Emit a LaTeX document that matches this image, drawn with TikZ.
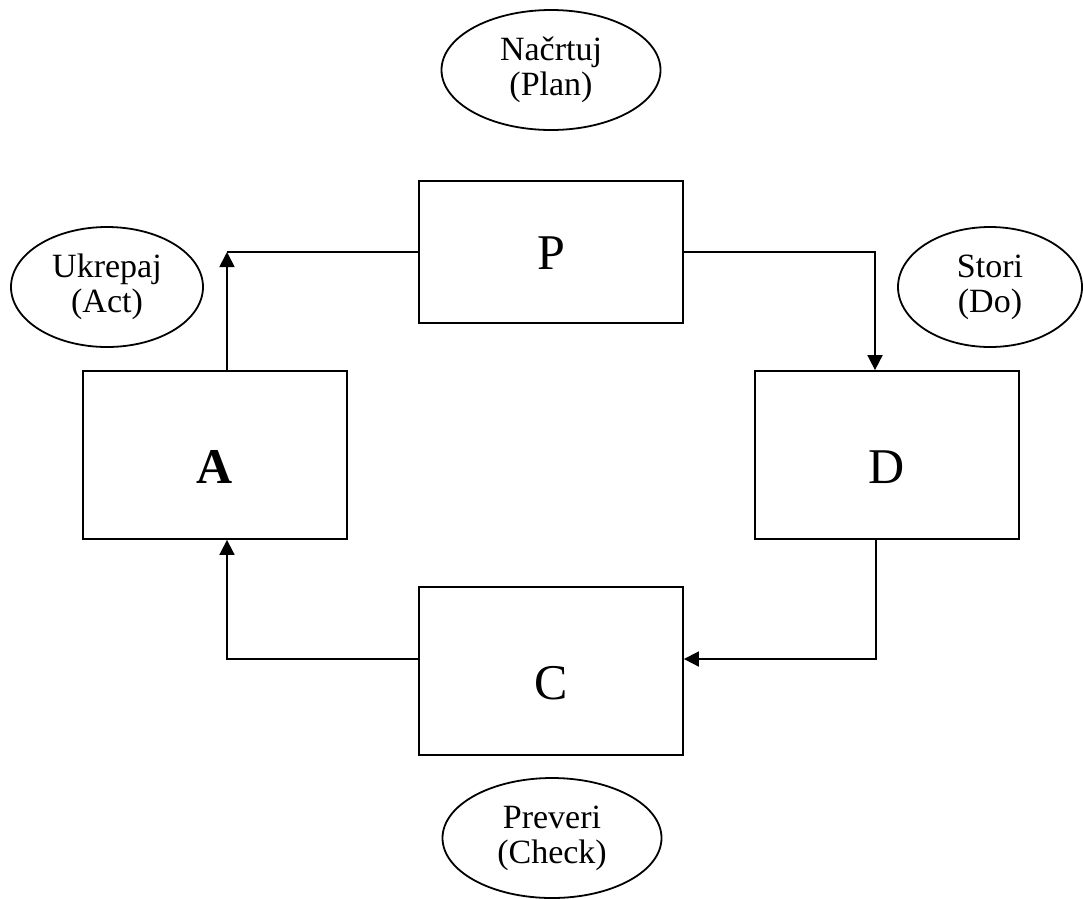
\documentclass[tikz,border=0pt]{standalone}
\usepackage{fontspec}
\setmainfont{Liberation Serif}
\usetikzlibrary{shapes.geometric,arrows.meta}

\begin{document}
\begin{tikzpicture}[
		x=1pt, y=-1pt,
		line width=1.8pt,
		box/.style = {shape=rectangle, draw,
			minimum width=264pt, minimum height=168pt,
			inner sep=0pt, text height=56pt, text depth=0pt,
			font=\fontsize{50}{60}\selectfont},
		bubble/.style = {shape=ellipse, draw, align=center,
			minimum width=192pt, minimum height=120pt, inner sep=0pt,
			font=\fontsize{34}{35}\selectfont},
		arr/.style = {-{Triangle[length=15pt,width=15pt]}}]
		\useasboundingbox (0,0) rectangle (1083,898);
		\node[box, minimum height=142pt, text height=34pt] (P) at (551,252) {P};
		\node[box] (A) at (215,455) {\textbf{A}};
		\node[box] (D) at (887,455) {D};
		\node[box] (C) at (551,671) {C};
		\node[bubble, minimum width=219pt] (plan) at (551,70) {Načrtuj\\(Plan)};
		\node[bubble] (act) at (107,287) {Ukrepaj\\(Act)};
		\node[bubble, minimum width=184pt] (do) at (990,287) {Stori\\(Do)};
		\node[bubble, minimum width=219pt] (check) at (552,838) {Preveri\\(Check)};
		\coordinate (actbend) at (227,252);
		\coordinate (dobend) at (875,252);
		\coordinate (checkbend) at (876,659);
		\coordinate (backbend) at (227,659);
		\draw[arr] (actbend |- A.north) -- (actbend);
		\draw (P.west) -- (actbend);
		\draw[arr] (P.east) -- (dobend) -- (dobend |- D.north);
		\draw[arr] (checkbend |- D.south) -- (checkbend) -- (checkbend -| C.east);
		\draw[arr] (backbend -| C.west) -- (backbend) -- (backbend |- A.south);
\end{tikzpicture}
\end{document}
